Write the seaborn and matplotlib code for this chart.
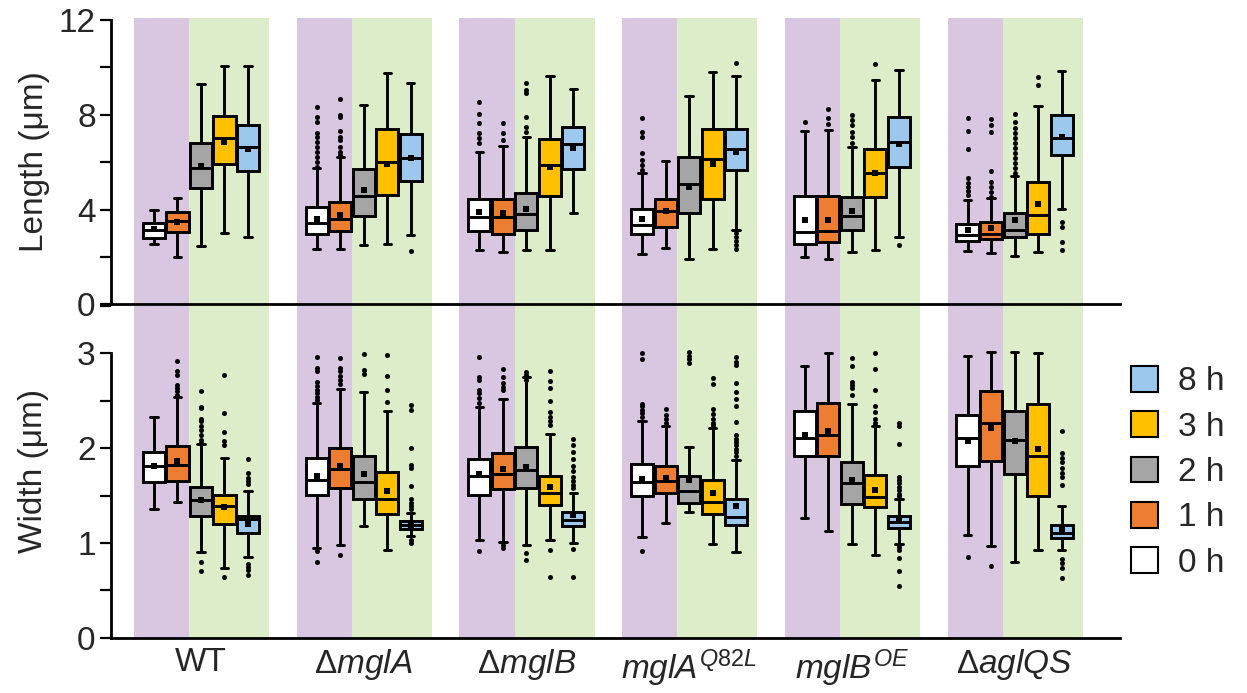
import numpy as np
import pandas as pd
import matplotlib
matplotlib.use("Agg")
import matplotlib.pyplot as plt
import seaborn as sns
from matplotlib.patches import Patch
from matplotlib.ticker import MultipleLocator

# ---------------- data ----------------
STRAINS = ["WT", r"$\mathit{ΔmglA}$", r"$\mathit{ΔmglB}$",
           r"$\mathit{mglA}^{\mathit{Q82L}}$", r"$\mathit{mglB}^{\mathit{OE}}$",
           r"$\mathit{ΔaglQS}$"]
TIMES = ["0 h", "1 h", "2 h", "3 h", "8 h"]
COLORS = ["#FFFFFF", "#ED7D31", "#A5A5A5", "#FFC000", "#9BC8EC"]

# Length (µm): rows = strains, columns = times
LEN_LO = [[2.53, 2.01, 2.46, 3.02, 2.85],
          [2.35, 2.35, 2.49, 2.54, 2.94],
          [2.30, 2.19, 2.30, 2.30, 3.87],
          [2.14, 2.39, 1.90, 2.32, 3.14],
          [2.01, 1.91, 2.22, 2.30, 2.84],
          [2.25, 2.15, 2.04, 2.22, 4.01]]
LEN_Q1 = [[2.81, 3.06, 4.89, 5.92, 5.64],
          [2.95, 3.09, 3.73, 4.61, 5.22],
          [3.09, 2.95, 3.14, 4.58, 5.70],
          [2.97, 3.25, 3.84, 4.44, 5.67],
          [2.54, 2.62, 3.14, 4.54, 5.79],
          [2.68, 2.74, 2.83, 2.97, 6.31]]
LEN_MED = [[3.14, 3.50, 5.76, 7.03, 6.65],
           [3.42, 3.59, 4.57, 5.99, 6.16],
           [3.70, 3.67, 3.81, 5.89, 6.75],
           [3.33, 3.92, 5.06, 6.12, 6.54],
           [3.06, 3.09, 3.73, 5.55, 6.84],
           [2.91, 2.95, 3.14, 3.77, 7.00]]
LEN_Q3 = [[3.42, 3.88, 6.79, 7.95, 7.57],
          [4.09, 4.33, 5.70, 7.41, 7.19],
          [4.43, 4.44, 4.68, 6.96, 7.49],
          [4.02, 4.46, 6.20, 7.40, 7.41],
          [4.57, 4.58, 4.54, 6.57, 7.89],
          [3.38, 3.46, 3.87, 5.17, 8.00]]
LEN_HI = [[3.97, 4.49, 9.30, 10.04, 10.05],
          [5.76, 6.20, 8.40, 9.75, 9.35],
          [6.44, 6.69, 7.05, 9.63, 9.10],
          [5.53, 6.06, 8.80, 9.81, 9.62],
          [7.30, 7.35, 6.65, 9.48, 9.87],
          [4.40, 4.47, 5.43, 8.35, 9.84]]
LEN_MEAN = [[3.16, 3.49, 5.84, 6.86, 6.55],
            [3.60, 3.78, 4.82, 5.92, 6.19],
            [3.89, 3.84, 4.03, 5.81, 6.60],
            [3.59, 3.93, 4.96, 5.91, 6.44],
            [3.56, 3.57, 3.95, 5.55, 6.76],
            [3.15, 3.21, 3.56, 4.24, 7.05]]
LEN_OUT = [
    [[], [], [], [], []],
    [[8.31, 7.92, 7.69, 7.24, 7.07, 6.86, 6.65, 6.44, 6.23, 6.02, 5.81],
     [8.65, 7.99, 7.89, 7.31, 7.05, 6.93, 6.65, 6.44, 6.30], [], [], [2.24]],
    [[8.54, 8.04, 7.64, 7.22, 7.00, 6.79], [7.66, 7.22, 6.93],
     [9.32, 9.04, 8.90, 7.92, 7.49, 7.28], [], []],
    [[7.87, 7.28, 7.07, 6.37, 6.09, 5.88, 5.67], [], [], [],
     [10.18, 3.00, 2.83, 2.66, 2.49, 2.32]],
    [[7.70], [8.24, 7.85, 7.61], [7.99, 7.78, 7.57, 7.28, 7.07, 6.79], [10.13], [2.50]],
    [[7.85, 7.31, 6.57, 5.32, 5.13, 4.96, 4.79, 4.61],
     [7.82, 7.57, 7.28, 5.64, 5.17, 4.96, 4.75, 4.54],
     [8.02, 7.71, 7.43, 7.22, 7.00, 6.79, 6.58, 6.37, 6.16, 5.95, 5.74, 5.53],
     [9.58, 9.25], [3.49, 3.27, 2.62, 2.29]],
]

# Width (µm)
WID_LO = [[1.36, 1.43, 0.90, 0.73, 0.85],
          [0.95, 0.98, 1.18, 0.93, 1.07],
          [1.03, 1.01, 0.98, 1.03, 1.00],
          [1.06, 1.21, 1.33, 0.99, 0.90],
          [1.26, 1.13, 0.99, 0.87, 0.99],
          [1.08, 0.97, 0.80, 0.93, 0.93]]
WID_Q1 = [[1.64, 1.65, 1.28, 1.20, 1.10],
          [1.51, 1.58, 1.46, 1.31, 1.15],
          [1.51, 1.57, 1.58, 1.40, 1.18],
          [1.49, 1.53, 1.42, 1.31, 1.19],
          [1.92, 1.92, 1.41, 1.38, 1.16],
          [1.81, 1.86, 1.73, 1.49, 1.05]]
WID_MED = [[1.81, 1.82, 1.45, 1.39, 1.25],
           [1.66, 1.78, 1.64, 1.46, 1.19],
           [1.71, 1.73, 1.77, 1.53, 1.24],
           [1.64, 1.65, 1.55, 1.43, 1.27],
           [2.11, 2.14, 1.63, 1.48, 1.22],
           [2.11, 2.27, 2.09, 1.92, 1.10]]
WID_Q3 = [[1.96, 2.02, 1.59, 1.51, 1.28],
          [1.90, 2.00, 1.92, 1.75, 1.23],
          [1.89, 1.95, 2.01, 1.71, 1.33],
          [1.83, 1.81, 1.71, 1.66, 1.46],
          [2.39, 2.48, 1.85, 1.72, 1.28],
          [2.35, 2.60, 2.39, 2.47, 1.19]]
WID_HI = [[2.33, 2.54, 2.04, 1.90, 1.55],
          [2.48, 2.62, 2.59, 2.39, 1.32],
          [2.43, 2.52, 2.75, 2.15, 1.53],
          [2.29, 2.23, 2.01, 2.21, 1.87],
          [2.87, 3.00, 2.47, 2.23, 1.46],
          [2.97, 3.01, 3.01, 3.00, 1.39]]
WID_MEAN = [[1.81, 1.86, 1.45, 1.38, 1.20],
            [1.71, 1.81, 1.73, 1.55, 1.19],
            [1.73, 1.78, 1.80, 1.59, 1.29],
            [1.67, 1.68, 1.66, 1.53, 1.39],
            [2.14, 2.18, 1.66, 1.56, 1.23],
            [2.07, 2.21, 2.07, 1.99, 1.15]]
WID_OUT = [
    [[], [2.92, 2.81, 2.77, 2.67, 2.63, 2.60, 2.56],
     [2.60, 2.43, 2.42, 2.31, 2.29, 2.23, 2.19, 2.14, 2.09, 2.05, 0.80, 0.70],
     [2.77, 2.37, 2.17, 2.07, 2.03, 0.64],
     [1.89, 1.74, 1.68, 1.65, 1.62, 0.78, 0.75, 0.71, 0.66]],
    [[2.96, 2.84, 2.81, 2.70, 2.65, 2.61, 2.58, 2.54, 2.51, 0.91, 0.80],
     [2.95, 2.85, 2.81, 2.76, 2.72, 2.68, 0.87],
     [2.99, 2.82, 2.78],
     [2.98, 2.76, 2.61, 2.49],
     [2.45, 2.40, 2.00, 1.82, 1.79, 1.60, 1.46, 1.42, 1.39, 1.36, 1.03, 1.00]],
    [[2.96, 2.75, 2.72, 2.61, 2.58, 2.53, 2.48, 0.91],
     [2.83, 2.75, 2.69, 2.64, 2.61, 0.98, 0.95],
     [2.80, 2.77, 2.72, 0.89, 0.82],
     [2.81, 2.71, 2.63, 2.50, 2.38, 2.33, 2.29, 2.24, 0.93, 0.64],
     [2.10, 2.03, 1.96, 1.89, 1.81, 1.76, 1.69, 1.65, 1.61, 1.58, 0.94, 0.64]],
    [[3.00, 2.94, 2.47, 2.44, 2.40, 2.37, 2.33, 0.91],
     [2.41, 2.35, 2.31, 2.27],
     [3.01, 2.97, 2.94, 2.90],
     [2.74, 2.68, 2.41, 2.36, 2.31, 2.27, 2.24],
     [2.96, 2.91, 2.88, 2.69, 2.59, 2.52, 2.44, 2.28, 2.14, 2.10, 2.06, 2.03, 1.99, 1.96, 1.92]],
    [[], [],
     [2.95, 2.87, 2.70, 2.67, 2.63, 2.56],
     [3.00, 2.83, 2.61, 2.44, 2.38, 2.31, 2.27],
     [2.26, 2.23, 2.04, 1.70, 1.66, 1.63, 1.59, 1.56, 1.52, 1.49, 0.96, 0.93, 0.84, 0.70, 0.55]],
    [[0.85], [0.76], [], [],
     [2.18, 1.95, 1.90, 1.85, 1.79, 1.74, 1.70, 1.61, 0.83, 0.79, 0.74, 0.63]],
]

# ---------------- style ----------------
sns.set_theme(style="white")
plt.rcParams["font.family"] = ["Liberation Sans", "DejaVu Sans"]
plt.rcParams["mathtext.fontset"] = "custom"
plt.rcParams["mathtext.rm"] = "Liberation Sans"
plt.rcParams["mathtext.it"] = "Liberation Sans:italic"
plt.rcParams["mathtext.bf"] = "Liberation Sans:bold"

PURPLE = "#D9C6E0"
GREEN = "#DDEDC9"
SLOT = 0.1445          # spacing between time-point boxes inside a strain group
PALETTE = dict(zip(TIMES, COLORS))
FS = 24


def box_frame(lo, q1, med, q3, hi):
    rows = []
    for i in range(len(STRAINS)):
        for j, t in enumerate(TIMES):
            pos = i + (j - 2) * SLOT
            for v in (lo[i][j], q1[i][j], med[i][j], q3[i][j], hi[i][j]):
                rows.append((pos, t, v))
    return pd.DataFrame(rows, columns=["pos", "time", "value"])


def point_frame(vals, nested=False):
    rows = []
    for i in range(len(STRAINS)):
        for j, t in enumerate(TIMES):
            pos = i + (j - 2) * SLOT
            items = vals[i][j] if nested else [vals[i][j]]
            for v in items:
                rows.append((pos, t, v))
    return pd.DataFrame(rows, columns=["pos", "time", "value"])


def draw_panel(ax, lo, q1, med, q3, hi, mean, out):
    for i in range(len(STRAINS)):
        ax.axvspan(i - 2 * SLOT - 0.123, i - 0.5 * SLOT, color=PURPLE, lw=0, zorder=0)
        ax.axvspan(i - 0.5 * SLOT, i + 2 * SLOT + 0.13, color=GREEN, lw=0, zorder=0)
    df = box_frame(lo, q1, med, q3, hi)
    sns.boxplot(data=df, x="pos", y="value", hue="time", hue_order=TIMES,
                palette=PALETTE, native_scale=True, dodge=False, whis=(0, 100),
                width=0.94, saturation=1, linecolor="black", linewidth=2.1,
                showfliers=False, legend=False, capwidths=0.045, ax=ax)
    od = point_frame(out, nested=True)
    sns.scatterplot(data=od, x="pos", y="value", color="black", s=13,
                    linewidth=0, marker="o", legend=False, ax=ax, zorder=5)
    md = point_frame(mean)
    sns.scatterplot(data=md, x="pos", y="value", color="black", s=15,
                    linewidth=0, marker="s", legend=False, ax=ax, zorder=6)


fig = plt.figure(figsize=(12.47, 6.93), dpi=100)
left, width = 111 / 1247, (1120 - 111) / 1247
ax1 = fig.add_axes([left, 1 - 304.3 / 693, width, (304.3 - 18.3) / 693])
ax2 = fig.add_axes([left, 1 - 637.7 / 693, width, (637.7 - 304.3) / 693])
ax1.set_zorder(3)
ax2.set_zorder(2)

draw_panel(ax1, LEN_LO, LEN_Q1, LEN_MED, LEN_Q3, LEN_HI, LEN_MEAN, LEN_OUT)
draw_panel(ax2, WID_LO, WID_Q1, WID_MED, WID_Q3, WID_HI, WID_MEAN, WID_OUT)

xl = (-0.553, 5.648)
for ax in (ax1, ax2):
    ax.set_xlim(*xl)
    ax.patch.set_visible(False)
    for s in ("top", "right"):
        ax.spines[s].set_visible(False)
    for s in ("left", "bottom"):
        ax.spines[s].set_color("black")
        ax.spines[s].set_linewidth(2.0)
        ax.spines[s].set_zorder(10)
    ax.tick_params(axis="y", which="both", direction="out", length=8, width=1.6,
                   color="black", labelsize=FS, pad=3, left=True)
    ax.set_xlabel("")

ax1.set_ylim(0, 12.07)
ax1.spines["left"].set_bounds(0, 12)
ax1.yaxis.set_major_locator(MultipleLocator(4))
ax1.yaxis.set_minor_locator(MultipleLocator(2))
ax1.set_xticks([])
ax1.set_ylabel("Length (μm)", fontsize=FS, labelpad=6)

ax2.set_ylim(0, 3.517)
ax2.spines["left"].set_bounds(0, 3)
ax2.set_yticks([0, 1, 2, 3])
ax2.yaxis.set_minor_locator(MultipleLocator(0.5))
ax2.set_xticks(range(len(STRAINS)))
ax2.set_xticklabels(STRAINS, fontsize=FS)
ax2.tick_params(axis="x", length=0, pad=7)
ax2.set_ylabel("Width (μm)", fontsize=FS, labelpad=20)

handles = [Patch(facecolor=c, edgecolor="black", linewidth=1.5) for c in COLORS][::-1]
fig.legend(handles, TIMES[::-1], loc="upper left", bbox_to_anchor=(1131 / 1247, 1 - 366 / 693),
           frameon=False, fontsize=FS, handlelength=0.8, handleheight=0.8,
           handletextpad=0.6, labelspacing=0.42, borderpad=0, borderaxespad=0)

fig.savefig("out.png", dpi=100)
